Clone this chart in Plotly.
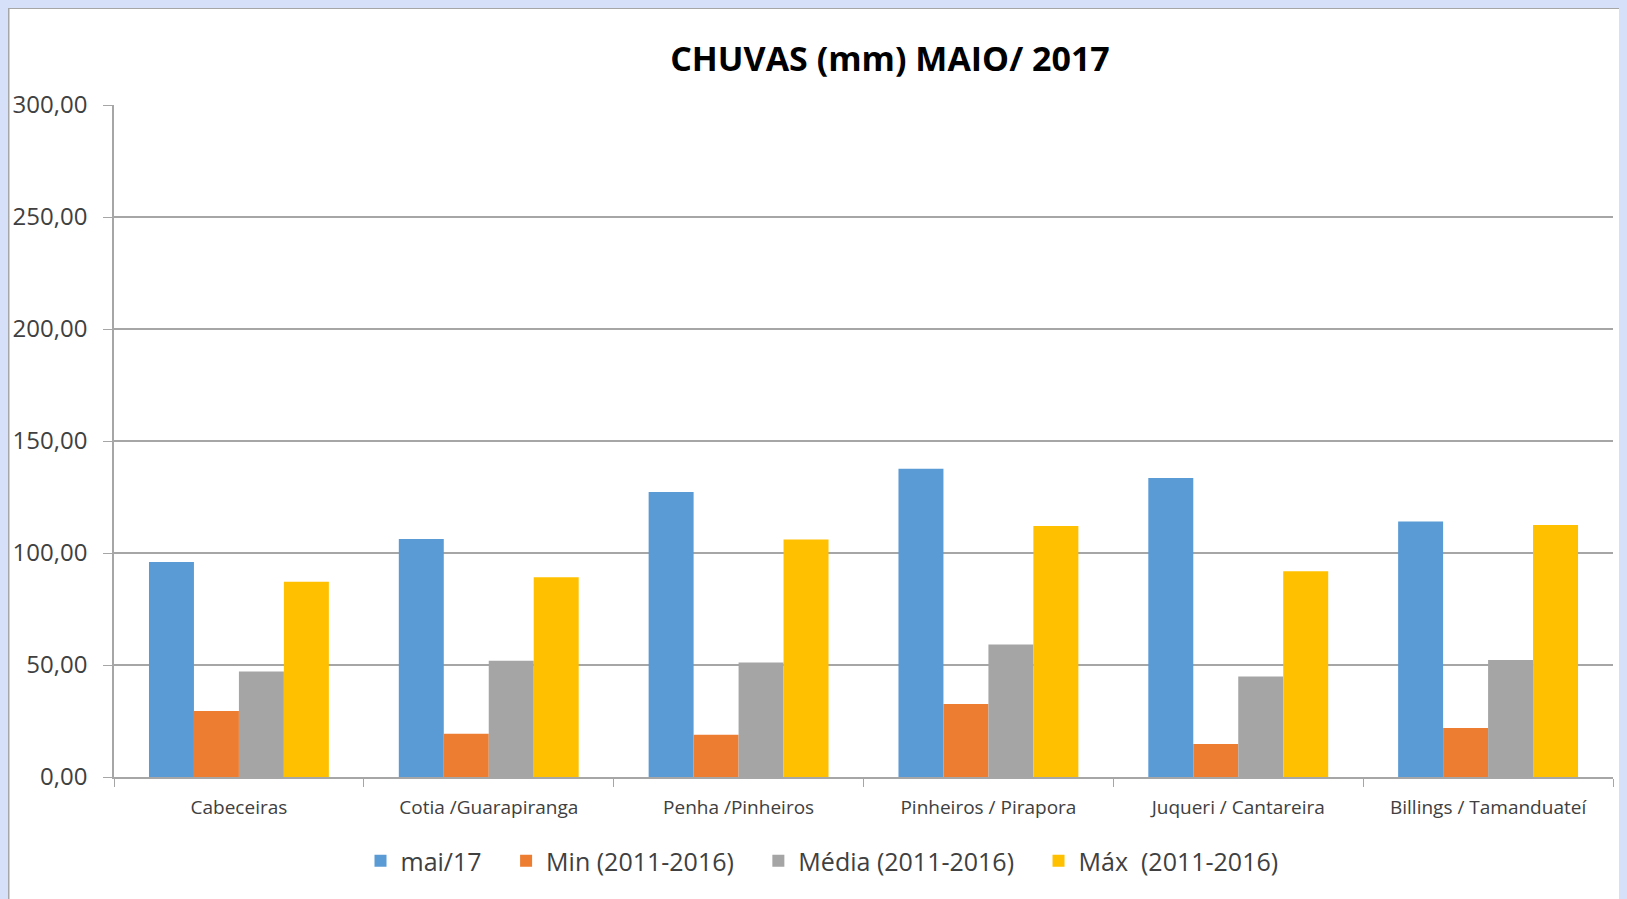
import plotly.graph_objects as go

categories = ["Cabeceiras", "Cotia /Guarapiranga", "Penha /Pinheiros",
              "Pinheiros / Pirapora", "Juqueri / Cantareira", "Billings / Tamanduateí"]
mai17 = [96.0, 106.2, 127.2, 137.6, 133.5, 114.1]
min_2011_2016 = [29.5, 19.3, 18.9, 32.6, 14.7, 21.9]
media_2011_2016 = [47.1, 51.9, 51.1, 59.1, 44.9, 52.2]
max_2011_2016 = [87.2, 89.2, 106.0, 112.1, 91.8, 112.5]

series_names = ["mai/17", "Min (2011-2016)", "Média (2011-2016)", "Máx  (2011-2016)"]
series_values = [mai17, min_2011_2016, media_2011_2016, max_2011_2016]
colors = ["#5B9BD5", "#ED7D31", "#A5A5A5", "#FFC000"]

FONT = "Open Sans"
# page body has an 8px margin; figure coordinates = screen - 8
W, H = 1619, 891
L, R, T, B = 106, 14, 97, 122
plot_w = W - L - R
plot_h = H - T - B

def px_x(px):
    return (px - L) / plot_w

def px_y(py):
    return (H - B - py) / plot_h

PAD = "\u00a0" * 3

fig = go.Figure()
for name, vals, col in zip(series_names, series_values, colors):
    fig.add_trace(go.Bar(x=categories, y=vals, name=name + PAD, marker_color=col,
                         marker_line_width=0))

fig.update_layout(
    width=W, height=H,
    margin=dict(l=L, r=R, t=T, b=B, pad=0, autoexpand=False),
    barmode="group", bargap=0.28, bargroupgap=0,
    paper_bgcolor="white", plot_bgcolor="white",
    separators=",.",
    font=dict(family=FONT, color="#404040"),
    title=dict(text="<b>CHUVAS (mm) MAIO/ 2017</b>", x=px_x(882), xref="paper",
               xanchor="center", y=1 - 51 / H, yanchor="middle", yref="container",
               font=dict(family=FONT, size=34, color="#000000")),
    showlegend=True,
    legend=dict(orientation="h", x=px_x(824), xanchor="center", y=px_y(853),
                yanchor="middle", font=dict(family=FONT, size=25, color="#404040"),
                bgcolor="rgba(0,0,0,0)", itemsizing="constant"),
    shapes=[dict(type="line", xref="paper", yref="paper",
                 x0=px_x(0), x1=px_x(W), y0=px_y(0), y1=px_y(0),
                 line=dict(color="#A6A6A6", width=2), layer="below"),
            dict(type="line", xref="paper", yref="paper",
                 x0=px_x(0.5), x1=px_x(0.5), y0=px_y(0), y1=px_y(H),
                 line=dict(color="#A6A6A6", width=2), layer="below")],
)

fig.update_yaxes(range=[0, 300], dtick=50, tickformat=".2f", automargin=False,
                 showgrid=True, gridcolor="#A6A6A6", gridwidth=1.5,
                 showline=True, linecolor="#A6A6A6", linewidth=1.5,
                 ticks="outside", ticklen=9, tickcolor="#A6A6A6",
                 ticklabelstandoff=11,
                 tickfont=dict(family=FONT, size=24, color="#404040"),
                 zeroline=False)
fig.update_xaxes(showline=True, linecolor="#A6A6A6", linewidth=1.5, automargin=False,
                 ticks="outside", ticklen=8, tickcolor="#A6A6A6", tickson="boundaries",
                 ticklabelstandoff=12,
                 tickfont=dict(family=FONT, size=19, color="#404040"),
                 showgrid=False)

fig.write_html("out.html",
               post_script="document.body.style.background='#D6E0F9';")
